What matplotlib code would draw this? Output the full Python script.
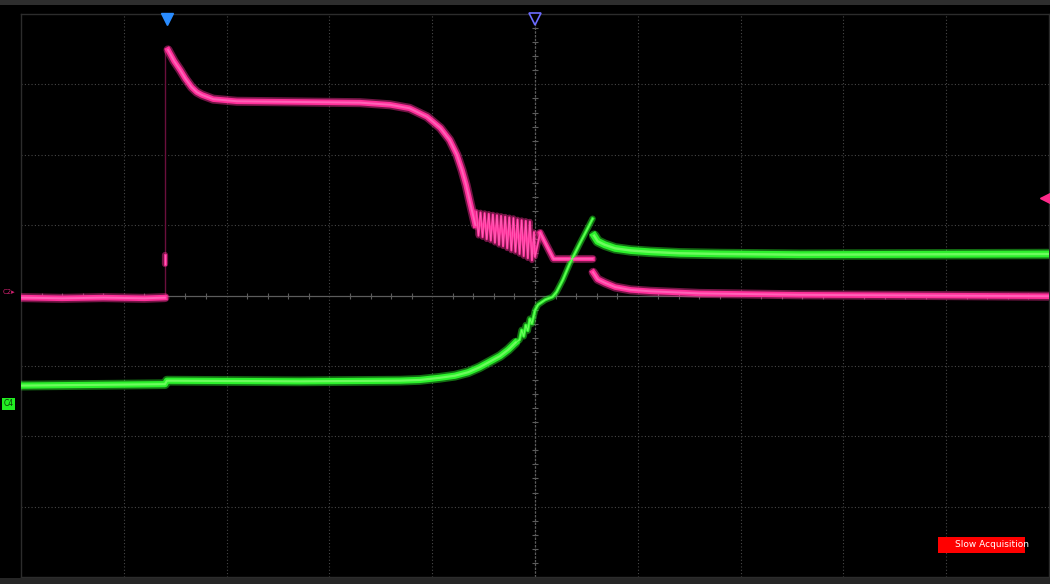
import matplotlib
matplotlib.use("Agg")
import matplotlib.pyplot as plt
from matplotlib.patches import Rectangle

# screen units: time and voltage in divisions (10 x 8 grid, centre = 0)
ch2_base_t = [-4.99, -4.6, -4.2, -3.8, -3.60]
ch2_base_v = [-0.03, -0.04, -0.03, -0.04, -0.03]
ch2_step_t = [-3.60, -3.60]
ch2_step_v = [0.45, 0.57]
ch2_edge_t = [-3.60, -3.60]
ch2_edge_v = [-0.03, 3.49]
ch2_fall_t = [-3.57, -3.51, -3.45, -3.40, -3.34, -3.29, -3.24, -3.13, -2.90, -2.29,
              -1.70, -1.41, -1.22, -1.05, -0.92, -0.83, -0.76, -0.71, -0.67, -0.63,
              -0.58]
ch2_fall_v = [3.49, 3.33, 3.20, 3.08, 2.96, 2.89, 2.85, 2.79, 2.76, 2.75,
              2.74, 2.71, 2.66, 2.54, 2.38, 2.21, 2.00, 1.78, 1.57, 1.31,
              1.00]
ch2_ring_t = [-0.57, -0.55, -0.53, -0.51, -0.49, -0.47, -0.45, -0.43, -0.41, -0.39,
              -0.37, -0.35, -0.33, -0.31, -0.29, -0.27, -0.25, -0.23, -0.21, -0.19,
              -0.17, -0.15, -0.13, -0.11, -0.09, -0.07, -0.05, -0.03, -0.01,
              0.00, 0.05]
ch2_ring_v = [1.19, 0.85, 1.18, 0.83, 1.17, 0.80, 1.16, 0.78, 1.15, 0.75,
              1.14, 0.72, 1.13, 0.70, 1.12, 0.67, 1.11, 0.64, 1.10, 0.62,
              1.08, 0.59, 1.07, 0.56, 1.06, 0.53, 1.05, 0.50, 0.90,
              0.55, 0.89]
ch2_shelf_t = [0.05, 0.18, 0.56]
ch2_shelf_v = [0.89, 0.52, 0.52]
ch2_tail_t = [0.565, 0.61, 0.68, 0.78, 0.93, 1.12, 1.60, 2.58, 4.99]
ch2_tail_v = [0.33, 0.23, 0.18, 0.12, 0.08, 0.06, 0.03, 0.01, -0.01]

ch4_base_t = [-4.99, -3.60, -3.58, -2.29, -1.31, -1.12, -0.93, -0.78, -0.65, -0.54,
              -0.44, -0.34, -0.26, -0.19]
ch4_base_v = [-1.28, -1.26, -1.21, -1.22, -1.21, -1.20, -1.17, -1.14, -1.09, -1.02,
              -0.94, -0.86, -0.77, -0.67]
ch4_rise_t = [-0.19, -0.15, -0.13, -0.11, -0.09, -0.07, -0.05, -0.03, 0.00,
              0.03, 0.10, 0.17, 0.21, 0.27, 0.34, 0.44, 0.56]
ch4_rise_v = [-0.67, -0.63, -0.49, -0.58, -0.42, -0.50, -0.33, -0.40, -0.21,
              -0.13, -0.06, -0.02, 0.05, 0.22, 0.46, 0.75, 1.09]
ch4_tail_t = [0.575, 0.61, 0.68, 0.78, 0.93, 1.12, 1.41, 1.80, 2.58, 4.99]
ch4_tail_v = [0.85, 0.77, 0.72, 0.67, 0.64, 0.62, 0.60, 0.59, 0.58, 0.59]

MAG = "#ff2f9a"
MAG_CORE = "#ff6fbf"
GRN = "#2cf02c"
GRN_CORE = "#7dff6a"

fig = plt.figure(figsize=(10.5, 5.84), dpi=100, facecolor="black")
ax = fig.add_axes([21 / 1050, 1 - 577 / 584, 1028 / 1050, 563 / 584])
ax.set_facecolor("black")
ax.set_xlim(-5, 5)
ax.set_ylim(-4, 4)
ax.set_xticks([])
ax.set_yticks([])
for s in ax.spines.values():
    s.set_color("#2c2c2c")
    s.set_linewidth(1)

# graticule
for x in range(-4, 5):
    if x != 0:
        ax.axvline(x, color="#474747", lw=0.8, ls=(0, (1, 2)), zorder=1)
for y in range(-3, 4):
    if y != 0:
        ax.axhline(y, color="#474747", lw=0.8, ls=(0, (1, 2)), zorder=1)
ax.axhline(0, color="#5c5c5c", lw=0.9, zorder=1)
ax.axvline(0, color="#5c5c5c", lw=0.9, ls=(0, (2, 1)), zorder=1)
minor = [i / 5 for i in range(-25, 26) if i % 5 != 0]
ax.plot(minor, [0] * len(minor), ls="none", marker="|", ms=5, color="#5c5c5c", mew=0.8, zorder=1)
minor_v = [i / 5 for i in range(-20, 21) if i % 5 != 0]
ax.plot([0] * len(minor_v), minor_v, ls="none", marker="_", ms=5, color="#5c5c5c", mew=0.8, zorder=1)


def trace(t, v, col, core, w):
    ax.plot(t, v, color=col, lw=w + 2.5, alpha=0.45, solid_joinstyle="round",
            solid_capstyle="round", zorder=3)
    ax.plot(t, v, color=col, lw=w, solid_joinstyle="round", zorder=4)
    ax.plot(t, v, color=core, lw=w * 0.35, alpha=0.8, solid_joinstyle="round", zorder=5)


ax.plot(ch2_edge_t, ch2_edge_v, color="#6a0f3c", lw=1, zorder=2)
trace(ch2_base_t, ch2_base_v, MAG, MAG_CORE, 4.0)
trace(ch2_step_t, ch2_step_v, MAG, MAG_CORE, 2.0)
trace(ch2_fall_t, ch2_fall_v, MAG, MAG_CORE, 4.0)
trace(ch2_ring_t, ch2_ring_v, MAG, MAG_CORE, 1.6)
trace(ch2_shelf_t, ch2_shelf_v, MAG, MAG_CORE, 3.2)
trace(ch2_tail_t, ch2_tail_v, MAG, MAG_CORE, 4.0)

trace(ch4_base_t, ch4_base_v, GRN, GRN_CORE, 4.5)
trace(ch4_rise_t, ch4_rise_v, GRN, GRN_CORE, 2.2)
trace(ch4_tail_t, ch4_tail_v, GRN, GRN_CORE, 5.0)

# trigger / position markers
ax.plot([-3.58], [3.93], marker="v", ms=9, color="#2a8cff", clip_on=False, zorder=6)
ax.plot([0], [3.93], marker="v", ms=9, mfc="black", mec="#6b6bff", mew=1.2,
        clip_on=False, zorder=6)
ax.plot([4.97], [1.38], marker="<", ms=9, color="#ff2a8a", clip_on=False, zorder=6)

# channel labels on the left
ax.text(-5.12, 0.05, "C2\u25b8", color="#d0206f", fontsize=5, ha="center", va="center",
        clip_on=False)
ax.text(-5.12, -1.54, "C4", color="#0a3a0a", fontsize=5.5, ha="center", va="center",
        clip_on=False, bbox=dict(boxstyle="square,pad=0.15", fc="#22ee22", ec="none"))

# status box
ax.add_patch(Rectangle((3.92, -3.66), 0.85, 0.23, facecolor="#ff0000", edgecolor="none",
                       zorder=6))
ax.text(4.09, -3.545, "Slow Acquisition", color="white", fontsize=6.5, ha="left",
        va="center", zorder=7)

# screen bezel strips
fig.add_artist(Rectangle((0, 1 - 5 / 584), 1, 5 / 584, transform=fig.transFigure,
                         facecolor="#2e2e2e", edgecolor="none"))
fig.add_artist(Rectangle((0, 0), 1, 6 / 584, transform=fig.transFigure,
                         facecolor="#262626", edgecolor="none"))

fig.savefig("out.png", dpi=100, facecolor="black")
